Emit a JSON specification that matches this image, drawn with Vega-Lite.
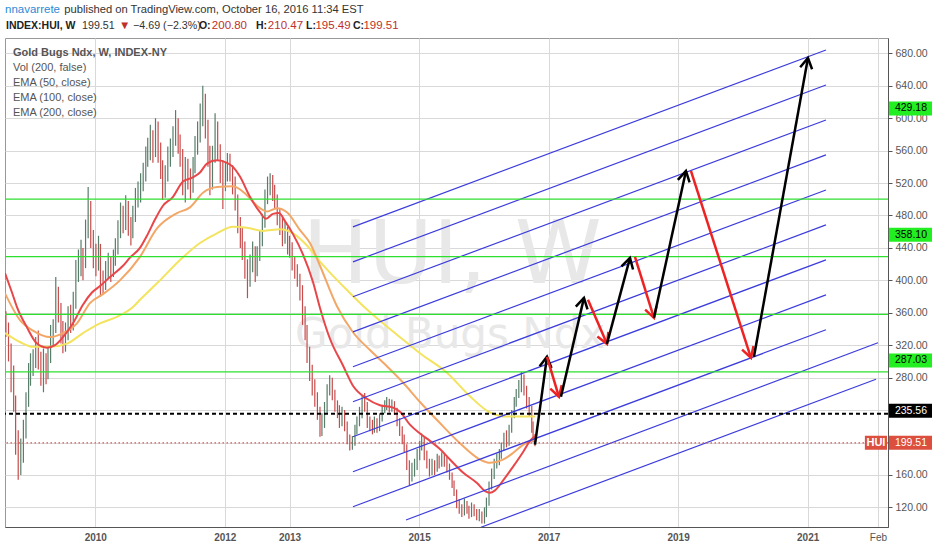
{
  "$schema": "https://vega.github.io/schema/vega-lite/v6.json",
  "width": 883,
  "height": 489,
  "autosize": {"type": "none"},
  "padding": {"left": 5, "top": 38, "right": 44, "bottom": 23},
  "background": "#ffffff",
  "config": {
    "view": {"stroke": "#999999", "strokeWidth": 1},
    "font": "Liberation Sans",
    "axisX": {
      "labelFontSize": 10, "labelColor": "#555555", "labelPadding": 5,
      "ticks": false, "domainColor": "#555555", "gridColor": "#d9d9d9", "grid": true
    },
    "axisY": {
      "labelFontSize": 10.5, "labelColor": "#555555",
      "tickSize": 4, "tickColor": "#555555", "labelPadding": 3,
      "domainColor": "#555555", "gridColor": "#d9d9d9", "grid": true
    }
  },
  "layer": [
    {
      "data": {"values": [{"t": 2013.196, "v": 396.9, "txt": "HUI, W"}]},
      "mark": {"type": "text", "font": "DejaVu Sans", "fontSize": 88, "color": "#e8e8e8", "align": "left", "baseline": "alphabetic"},
      "encoding": {
        "x": {"field": "t", "type": "quantitative", "title": null, "scale": {"domain": [2008.606, 2022.241], "nice": false, "zero": false}},
        "y": {"field": "v", "type": "quantitative", "title": null, "scale": {"domain": [95.8, 698.9], "nice": false, "zero": false}},
        "text": {"field": "txt"}
      }
    },
    {
      "data": {"values": [{"t": 2013.084, "v": 316.8, "txt": "Gold Bugs Ndx"}]},
      "mark": {"type": "text", "font": "DejaVu Sans", "fontSize": 42, "color": "#e8e8e8", "align": "left", "baseline": "alphabetic"},
      "encoding": {
        "x": {"field": "t", "type": "quantitative", "title": null, "scale": {"domain": [2008.606, 2022.241], "nice": false, "zero": false}},
        "y": {"field": "v", "type": "quantitative", "title": null, "scale": {"domain": [95.8, 698.9], "nice": false, "zero": false}},
        "text": {"field": "txt"}
      }
    },
    {
      "data": {"values": [
        {"t":2008.62,"o":355,"h":362,"l":330,"c":340},{"t":2008.66,"o":340,"h":348,"l":300,"c":310},{"t":2008.70,"o":310,"h":322,"l":262,"c":280},{"t":2008.74,"o":280,"h":295,"l":238,"c":250},
        {"t":2008.77,"o":250,"h":258,"l":185,"c":200},{"t":2008.81,"o":200,"h":215,"l":154,"c":170},{"t":2008.85,"o":170,"h":205,"l":160,"c":185},{"t":2008.89,"o":185,"h":228,"l":175,"c":210},
        {"t":2008.93,"o":210,"h":262,"l":205,"c":250},{"t":2008.97,"o":250,"h":298,"l":244,"c":280},{"t":2009.00,"o":280,"h":310,"l":270,"c":295},{"t":2009.04,"o":295,"h":315,"l":282,"c":300},
        {"t":2009.08,"o":300,"h":330,"l":292,"c":320},{"t":2009.12,"o":320,"h":338,"l":290,"c":300},{"t":2009.16,"o":300,"h":312,"l":270,"c":290},{"t":2009.20,"o":290,"h":316,"l":262,"c":300},
        {"t":2009.24,"o":300,"h":310,"l":272,"c":285},{"t":2009.27,"o":285,"h":318,"l":278,"c":305},{"t":2009.31,"o":305,"h":345,"l":298,"c":330},{"t":2009.35,"o":330,"h":352,"l":318,"c":340},
        {"t":2009.39,"o":340,"h":404,"l":335,"c":385},{"t":2009.43,"o":385,"h":392,"l":348,"c":360},{"t":2009.47,"o":360,"h":372,"l":322,"c":340},{"t":2009.50,"o":340,"h":350,"l":310,"c":325},
        {"t":2009.54,"o":325,"h":348,"l":312,"c":335},{"t":2009.58,"o":335,"h":368,"l":326,"c":355},{"t":2009.62,"o":355,"h":370,"l":335,"c":345},{"t":2009.66,"o":345,"h":386,"l":338,"c":370},
        {"t":2009.70,"o":370,"h":425,"l":365,"c":410},{"t":2009.74,"o":410,"h":438,"l":398,"c":420},{"t":2009.78,"o":420,"h":450,"l":405,"c":430},{"t":2009.81,"o":430,"h":440,"l":400,"c":420},
        {"t":2009.85,"o":420,"h":475,"l":415,"c":460},{"t":2009.89,"o":460,"h":515,"l":452,"c":490},{"t":2009.93,"o":490,"h":498,"l":440,"c":450},{"t":2009.97,"o":450,"h":462,"l":415,"c":430},
        {"t":2010.01,"o":430,"h":445,"l":405,"c":420},{"t":2010.05,"o":420,"h":455,"l":412,"c":440},{"t":2010.08,"o":440,"h":445,"l":380,"c":400},{"t":2010.12,"o":400,"h":412,"l":383,"c":395},
        {"t":2010.16,"o":395,"h":424,"l":388,"c":410},{"t":2010.20,"o":410,"h":434,"l":402,"c":420},{"t":2010.24,"o":420,"h":430,"l":398,"c":410},{"t":2010.28,"o":410,"h":438,"l":404,"c":425},
        {"t":2010.31,"o":425,"h":452,"l":418,"c":440},{"t":2010.35,"o":440,"h":474,"l":432,"c":460},{"t":2010.39,"o":460,"h":496,"l":452,"c":480},{"t":2010.43,"o":480,"h":492,"l":458,"c":470},
        {"t":2010.47,"o":470,"h":505,"l":462,"c":490},{"t":2010.51,"o":490,"h":498,"l":455,"c":470},{"t":2010.55,"o":470,"h":478,"l":443,"c":460},{"t":2010.58,"o":460,"h":492,"l":452,"c":480},
        {"t":2010.62,"o":480,"h":514,"l":472,"c":500},{"t":2010.66,"o":500,"h":522,"l":490,"c":505},{"t":2010.70,"o":505,"h":532,"l":496,"c":520},{"t":2010.74,"o":520,"h":545,"l":510,"c":530},
        {"t":2010.78,"o":530,"h":565,"l":522,"c":550},{"t":2010.81,"o":550,"h":576,"l":540,"c":560},{"t":2010.85,"o":560,"h":592,"l":548,"c":575},{"t":2010.89,"o":575,"h":585,"l":545,"c":560},
        {"t":2010.93,"o":560,"h":600,"l":552,"c":590},{"t":2010.97,"o":590,"h":596,"l":545,"c":560},{"t":2011.01,"o":560,"h":570,"l":525,"c":540},{"t":2011.04,"o":540,"h":548,"l":499,"c":510},
        {"t":2011.08,"o":510,"h":542,"l":502,"c":530},{"t":2011.12,"o":530,"h":565,"l":522,"c":550},{"t":2011.16,"o":550,"h":575,"l":540,"c":560},{"t":2011.20,"o":560,"h":590,"l":552,"c":575},
        {"t":2011.24,"o":575,"h":610,"l":566,"c":590},{"t":2011.28,"o":590,"h":600,"l":556,"c":570},{"t":2011.31,"o":570,"h":580,"l":540,"c":555},{"t":2011.35,"o":555,"h":562,"l":505,"c":520},
        {"t":2011.39,"o":520,"h":552,"l":496,"c":540},{"t":2011.43,"o":540,"h":550,"l":512,"c":525},{"t":2011.47,"o":525,"h":538,"l":500,"c":515},{"t":2011.51,"o":515,"h":552,"l":508,"c":540},
        {"t":2011.54,"o":540,"h":578,"l":532,"c":565},{"t":2011.58,"o":565,"h":596,"l":555,"c":580},{"t":2011.62,"o":580,"h":618,"l":570,"c":600},{"t":2011.66,"o":600,"h":640,"l":590,"c":625},
        {"t":2011.70,"o":625,"h":630,"l":575,"c":590},{"t":2011.74,"o":590,"h":598,"l":540,"c":560},{"t":2011.77,"o":560,"h":566,"l":505,"c":520},{"t":2011.81,"o":520,"h":566,"l":512,"c":550},
        {"t":2011.85,"o":550,"h":606,"l":545,"c":590},{"t":2011.89,"o":590,"h":596,"l":548,"c":560},{"t":2011.93,"o":560,"h":568,"l":520,"c":540},{"t":2011.97,"o":540,"h":548,"l":488,"c":520},
        {"t":2012.01,"o":520,"h":545,"l":510,"c":530},{"t":2012.04,"o":530,"h":557,"l":522,"c":545},{"t":2012.08,"o":545,"h":556,"l":522,"c":535},{"t":2012.12,"o":535,"h":542,"l":506,"c":520},
        {"t":2012.16,"o":520,"h":528,"l":486,"c":500},{"t":2012.20,"o":500,"h":506,"l":458,"c":470},{"t":2012.24,"o":470,"h":478,"l":440,"c":455},{"t":2012.27,"o":455,"h":465,"l":425,"c":440},
        {"t":2012.31,"o":440,"h":448,"l":402,"c":420},{"t":2012.35,"o":420,"h":426,"l":378,"c":400},{"t":2012.39,"o":400,"h":432,"l":392,"c":420},{"t":2012.43,"o":420,"h":448,"l":410,"c":435},
        {"t":2012.47,"o":435,"h":442,"l":398,"c":415},{"t":2012.50,"o":415,"h":442,"l":405,"c":430},{"t":2012.54,"o":430,"h":462,"l":424,"c":450},{"t":2012.58,"o":450,"h":482,"l":442,"c":470},
        {"t":2012.62,"o":470,"h":512,"l":465,"c":500},{"t":2012.66,"o":500,"h":528,"l":494,"c":515},{"t":2012.70,"o":515,"h":532,"l":505,"c":525},{"t":2012.74,"o":525,"h":530,"l":498,"c":510},
        {"t":2012.77,"o":510,"h":518,"l":488,"c":500},{"t":2012.81,"o":500,"h":506,"l":468,"c":480},{"t":2012.85,"o":480,"h":488,"l":456,"c":470},{"t":2012.89,"o":470,"h":478,"l":442,"c":455},
        {"t":2012.93,"o":455,"h":472,"l":445,"c":460},{"t":2012.97,"o":460,"h":466,"l":432,"c":445},{"t":2013.00,"o":445,"h":455,"l":428,"c":440},{"t":2013.04,"o":440,"h":447,"l":412,"c":425},
        {"t":2013.08,"o":425,"h":430,"l":402,"c":415},{"t":2013.12,"o":415,"h":420,"l":392,"c":400},{"t":2013.16,"o":400,"h":408,"l":375,"c":390},{"t":2013.20,"o":390,"h":394,"l":345,"c":360},
        {"t":2013.24,"o":360,"h":368,"l":326,"c":340},{"t":2013.27,"o":340,"h":345,"l":298,"c":310},{"t":2013.31,"o":310,"h":318,"l":276,"c":290},{"t":2013.35,"o":290,"h":296,"l":258,"c":270},
        {"t":2013.39,"o":270,"h":278,"l":244,"c":255},{"t":2013.43,"o":255,"h":262,"l":228,"c":240},{"t":2013.47,"o":240,"h":244,"l":207,"c":215},{"t":2013.50,"o":215,"h":236,"l":208,"c":225},
        {"t":2013.54,"o":225,"h":250,"l":218,"c":240},{"t":2013.58,"o":240,"h":272,"l":236,"c":265},{"t":2013.62,"o":265,"h":283,"l":258,"c":275},{"t":2013.66,"o":275,"h":280,"l":252,"c":260},
        {"t":2013.70,"o":260,"h":265,"l":238,"c":245},{"t":2013.74,"o":245,"h":252,"l":230,"c":240},{"t":2013.77,"o":240,"h":246,"l":218,"c":225},{"t":2013.81,"o":225,"h":244,"l":220,"c":235},
        {"t":2013.85,"o":235,"h":240,"l":214,"c":222},{"t":2013.89,"o":222,"h":226,"l":198,"c":205},{"t":2013.93,"o":205,"h":210,"l":190,"c":195},{"t":2013.97,"o":195,"h":208,"l":191,"c":200},
        {"t":2014.01,"o":200,"h":222,"l":196,"c":215},{"t":2014.04,"o":215,"h":232,"l":210,"c":225},{"t":2014.08,"o":225,"h":244,"l":220,"c":235},{"t":2014.12,"o":235,"h":258,"l":230,"c":250},
        {"t":2014.16,"o":250,"h":261,"l":238,"c":245},{"t":2014.20,"o":245,"h":250,"l":218,"c":225},{"t":2014.24,"o":225,"h":232,"l":214,"c":222},{"t":2014.28,"o":222,"h":228,"l":210,"c":215},
        {"t":2014.31,"o":215,"h":232,"l":212,"c":225},{"t":2014.35,"o":225,"h":230,"l":212,"c":218},{"t":2014.39,"o":218,"h":236,"l":214,"c":230},{"t":2014.43,"o":230,"h":246,"l":226,"c":240},
        {"t":2014.47,"o":240,"h":252,"l":236,"c":245},{"t":2014.50,"o":245,"h":256,"l":240,"c":250},{"t":2014.54,"o":250,"h":254,"l":237,"c":242},{"t":2014.58,"o":242,"h":253,"l":238,"c":248},
        {"t":2014.62,"o":248,"h":251,"l":234,"c":240},{"t":2014.66,"o":240,"h":243,"l":220,"c":225},{"t":2014.70,"o":225,"h":230,"l":208,"c":215},{"t":2014.74,"o":215,"h":220,"l":198,"c":205},
        {"t":2014.77,"o":205,"h":210,"l":188,"c":195},{"t":2014.81,"o":195,"h":198,"l":166,"c":175},{"t":2014.85,"o":175,"h":178,"l":147,"c":160},{"t":2014.89,"o":160,"h":175,"l":152,"c":165},
        {"t":2014.93,"o":165,"h":180,"l":158,"c":170},{"t":2014.97,"o":170,"h":192,"l":166,"c":185},{"t":2015.01,"o":185,"h":202,"l":178,"c":195},{"t":2015.04,"o":195,"h":211,"l":190,"c":205},
        {"t":2015.08,"o":205,"h":208,"l":178,"c":185},{"t":2015.12,"o":185,"h":190,"l":168,"c":175},{"t":2015.16,"o":175,"h":180,"l":158,"c":165},{"t":2015.20,"o":165,"h":180,"l":160,"c":172},
        {"t":2015.24,"o":172,"h":178,"l":160,"c":168},{"t":2015.28,"o":168,"h":186,"l":164,"c":178},{"t":2015.31,"o":178,"h":184,"l":168,"c":175},{"t":2015.35,"o":175,"h":188,"l":170,"c":180},
        {"t":2015.39,"o":180,"h":186,"l":170,"c":178},{"t":2015.43,"o":178,"h":182,"l":163,"c":170},{"t":2015.47,"o":170,"h":174,"l":154,"c":160},{"t":2015.51,"o":160,"h":163,"l":144,"c":150},
        {"t":2015.54,"o":150,"h":153,"l":134,"c":140},{"t":2015.58,"o":140,"h":142,"l":119,"c":125},{"t":2015.62,"o":125,"h":130,"l":112,"c":118},{"t":2015.66,"o":118,"h":124,"l":108,"c":115},
        {"t":2015.70,"o":115,"h":131,"l":110,"c":122},{"t":2015.74,"o":122,"h":128,"l":112,"c":118},{"t":2015.77,"o":118,"h":122,"l":106,"c":112},{"t":2015.81,"o":112,"h":126,"l":108,"c":120},
        {"t":2015.85,"o":120,"h":124,"l":109,"c":115},{"t":2015.89,"o":115,"h":118,"l":104,"c":110},{"t":2015.93,"o":110,"h":118,"l":103,"c":112},{"t":2015.97,"o":112,"h":115,"l":100,"c":108},
        {"t":2016.01,"o":108,"h":120,"l":100,"c":112},{"t":2016.04,"o":112,"h":132,"l":108,"c":125},{"t":2016.08,"o":125,"h":152,"l":122,"c":145},{"t":2016.12,"o":145,"h":168,"l":142,"c":160},
        {"t":2016.16,"o":160,"h":180,"l":155,"c":175},{"t":2016.20,"o":175,"h":186,"l":168,"c":180},{"t":2016.24,"o":180,"h":192,"l":172,"c":185},{"t":2016.27,"o":185,"h":200,"l":180,"c":195},
        {"t":2016.31,"o":195,"h":212,"l":190,"c":205},{"t":2016.35,"o":205,"h":215,"l":194,"c":200},{"t":2016.39,"o":200,"h":222,"l":196,"c":215},{"t":2016.43,"o":215,"h":240,"l":212,"c":235},
        {"t":2016.47,"o":235,"h":256,"l":230,"c":250},{"t":2016.50,"o":250,"h":266,"l":244,"c":260},{"t":2016.54,"o":260,"h":277,"l":255,"c":270},{"t":2016.58,"o":270,"h":287,"l":262,"c":280},
        {"t":2016.62,"o":280,"h":284,"l":258,"c":265},{"t":2016.66,"o":265,"h":270,"l":242,"c":250},{"t":2016.70,"o":250,"h":256,"l":232,"c":240},{"t":2016.74,"o":240,"h":245,"l":212,"c":220},
        {"t":2016.76,"o":220,"h":226,"l":200,"c":204},{"t":2016.79,"o":200.8,"h":210.47,"l":195.49,"c":199.51}
      ]},
      "mark": {"type": "rule", "strokeWidth": 1.2},
      "encoding": {
        "x": {
          "field": "t", "type": "quantitative", "title": null,
          "scale": {"domain": [2008.606, 2022.241], "nice": false, "zero": false},
          "axis": {
            "values": [2010, 2012, 2013, 2015, 2017, 2019, 2021, 2022.085],
            "tickCount": 30,
            "labelExpr": "datum.value > 2022 ? 'Feb' : format(datum.value, 'd')",
            "labelFontWeight": {"condition": {"test": "datum.value > 2022", "value": "normal"}, "value": "bold"},
            "labelOverlap": false, "labelFlush": false, "grid": true
          }
        },
        "y": {
          "field": "l", "type": "quantitative", "title": null,
          "scale": {"domain": [95.8, 698.9], "nice": false, "zero": false},
          "axis": {
            "orient": "right",
            "values": [120, 160, 200, 240, 280, 320, 360, 400, 440, 480, 520, 560, 600, 640, 680],
            "tickCount": 30,
            "format": ".2f",
            "labelOverlap": false, "labelFlush": false, "grid": true
          }
        },
        "y2": {"field": "h"},
        "color": {"condition": {"test": "datum.c >= datum.o", "value": "#587d69"}, "value": "#c64b4b"}
      }
    },
    {
      "data": {"values": [
        {"s":"200","t":2008.606,"v":335},{"s":"200","t":2008.837,"v":324},{"s":"200","t":2009.038,"v":318},{"s":"200","t":2009.300,"v":318},
        {"s":"200","t":2009.563,"v":322},{"s":"200","t":2009.810,"v":335},{"s":"200","t":2010.073,"v":347},{"s":"200","t":2010.335,"v":355},
        {"s":"200","t":2010.582,"v":367},{"s":"200","t":2010.690,"v":376},{"s":"200","t":2010.845,"v":388},{"s":"200","t":2010.999,"v":400},
        {"s":"200","t":2011.308,"v":425},{"s":"200","t":2011.617,"v":446},{"s":"200","t":2011.879,"v":458},{"s":"200","t":2012.126,"v":466},
        {"s":"200","t":2012.342,"v":465},{"s":"200","t":2012.590,"v":461},{"s":"200","t":2012.852,"v":463},{"s":"200","t":2013.053,"v":458},
        {"s":"200","t":2013.269,"v":443},{"s":"200","t":2013.470,"v":423},{"s":"200","t":2013.701,"v":403},{"s":"200","t":2013.887,"v":388},
        {"s":"200","t":2014.196,"v":364},{"s":"200","t":2014.504,"v":343},{"s":"200","t":2014.751,"v":327},{"s":"200","t":2015.014,"v":310},
        {"s":"200","t":2015.431,"v":286},{"s":"200","t":2015.786,"v":257},{"s":"200","t":2016.095,"v":237},{"s":"200","t":2016.357,"v":232},
        {"s":"200","t":2016.558,"v":232},{"s":"200","t":2016.790,"v":232},
        {"s":"100","t":2008.606,"v":384},{"s":"100","t":2008.837,"v":351},{"s":"100","t":2009.038,"v":338},{"s":"100","t":2009.300,"v":330},
        {"s":"100","t":2009.501,"v":335},{"s":"100","t":2009.717,"v":347},{"s":"100","t":2009.918,"v":372},{"s":"100","t":2010.119,"v":383},
        {"s":"100","t":2010.381,"v":400},{"s":"100","t":2010.690,"v":429},{"s":"100","t":2010.953,"v":464},{"s":"100","t":2011.262,"v":483},
        {"s":"100","t":2011.462,"v":490},{"s":"100","t":2011.663,"v":508},{"s":"100","t":2011.879,"v":515},{"s":"100","t":2012.126,"v":516},
        {"s":"100","t":2012.342,"v":505},{"s":"100","t":2012.497,"v":492},{"s":"100","t":2012.651,"v":485},{"s":"100","t":2012.806,"v":489},
        {"s":"100","t":2012.960,"v":484},{"s":"100","t":2013.161,"v":462},{"s":"100","t":2013.315,"v":446},{"s":"100","t":2013.470,"v":418},
        {"s":"100","t":2013.732,"v":368},{"s":"100","t":2013.979,"v":336},{"s":"100","t":2014.242,"v":314},{"s":"100","t":2014.504,"v":294},
        {"s":"100","t":2014.751,"v":274},{"s":"100","t":2015.014,"v":250},{"s":"100","t":2015.322,"v":224},{"s":"100","t":2015.632,"v":199},
        {"s":"100","t":2015.940,"v":179},{"s":"100","t":2016.095,"v":175},{"s":"100","t":2016.296,"v":179},{"s":"100","t":2016.450,"v":187},
        {"s":"100","t":2016.604,"v":197},{"s":"100","t":2016.790,"v":204},
        {"s":"50","t":2008.606,"v":409},{"s":"50","t":2008.714,"v":385},{"s":"50","t":2008.791,"v":367},{"s":"50","t":2008.945,"v":342},
        {"s":"50","t":2009.100,"v":322},{"s":"50","t":2009.254,"v":317},{"s":"50","t":2009.378,"v":320},{"s":"50","t":2009.501,"v":330},
        {"s":"50","t":2009.656,"v":347},{"s":"50","t":2009.810,"v":370},{"s":"50","t":2009.949,"v":385},{"s":"50","t":2010.073,"v":393},
        {"s":"50","t":2010.227,"v":404},{"s":"50","t":2010.428,"v":418},{"s":"50","t":2010.536,"v":428},{"s":"50","t":2010.690,"v":440},
        {"s":"50","t":2010.798,"v":455},{"s":"50","t":2010.922,"v":475},{"s":"50","t":2011.045,"v":492},{"s":"50","t":2011.200,"v":503},
        {"s":"50","t":2011.354,"v":522},{"s":"50","t":2011.509,"v":527},{"s":"50","t":2011.617,"v":533},{"s":"50","t":2011.725,"v":544},
        {"s":"50","t":2011.879,"v":548},{"s":"50","t":2012.034,"v":545},{"s":"50","t":2012.126,"v":540},{"s":"50","t":2012.234,"v":528},
        {"s":"50","t":2012.389,"v":503},{"s":"50","t":2012.543,"v":484},{"s":"50","t":2012.636,"v":476},{"s":"50","t":2012.744,"v":482},
        {"s":"50","t":2012.837,"v":483},{"s":"50","t":2012.929,"v":473},{"s":"50","t":2013.053,"v":457},{"s":"50","t":2013.207,"v":432},
        {"s":"50","t":2013.362,"v":398},{"s":"50","t":2013.470,"v":366},{"s":"50","t":2013.624,"v":328},{"s":"50","t":2013.825,"v":295},
        {"s":"50","t":2013.979,"v":270},{"s":"50","t":2014.196,"v":254},{"s":"50","t":2014.396,"v":246},{"s":"50","t":2014.597,"v":243},
        {"s":"50","t":2014.705,"v":238},{"s":"50","t":2014.859,"v":222},{"s":"50","t":2015.014,"v":211},{"s":"50","t":2015.168,"v":202},
        {"s":"50","t":2015.322,"v":192},{"s":"50","t":2015.477,"v":179},{"s":"50","t":2015.678,"v":163},{"s":"50","t":2015.894,"v":150},
        {"s":"50","t":2016.018,"v":140},{"s":"50","t":2016.095,"v":138},{"s":"50","t":2016.172,"v":141},{"s":"50","t":2016.296,"v":153},
        {"s":"50","t":2016.450,"v":170},{"s":"50","t":2016.604,"v":188},{"s":"50","t":2016.713,"v":202},{"s":"50","t":2016.790,"v":208}
      ]},
      "mark": {"type": "line", "strokeWidth": 2, "clip": true, "interpolate": "monotone"},
      "encoding": {
        "x": {"field": "t", "type": "quantitative", "title": null, "scale": {"domain": [2008.606, 2022.241], "nice": false, "zero": false}},
        "y": {"field": "v", "type": "quantitative", "title": null, "scale": {"domain": [95.8, 698.9], "nice": false, "zero": false}},
        "color": {"field": "s", "type": "nominal", "scale": {"domain": ["200", "100", "50"], "range": ["#f3e35e", "#f3a767", "#e8474a"]}, "legend": null}
      }
    },
    {
      "data": {"values": [
        {"id":1,"t":2013.979,"v":465.9},{"id":1,"t":2021.283,"v":684.1},
        {"id":2,"t":2013.979,"v":422.8},{"id":2,"t":2021.283,"v":640.9},
        {"id":3,"t":2013.979,"v":379.7},{"id":3,"t":2021.283,"v":597.8},
        {"id":4,"t":2013.979,"v":336.5},{"id":4,"t":2021.283,"v":554.7},
        {"id":5,"t":2013.979,"v":293.4},{"id":5,"t":2021.283,"v":511.5},
        {"id":6,"t":2013.979,"v":250.3},{"id":6,"t":2021.283,"v":468.4},
        {"id":7,"t":2013.979,"v":207.1},{"id":7,"t":2021.283,"v":425.3},
        {"id":8,"t":2013.979,"v":164.0},{"id":8,"t":2021.283,"v":382.1},
        {"id":9,"t":2013.979,"v":120.8},{"id":9,"t":2021.283,"v":339.0},
        {"id":10,"t":2014.798,"v":104.5},{"id":10,"t":2022.086,"v":323.0},
        {"id":11,"t":2015.956,"v":95.5},{"id":11,"t":2022.055,"v":278.0}
      ]},
      "mark": {"type": "line", "strokeWidth": 1.2, "color": "#3c3cdc", "clip": true},
      "encoding": {
        "x": {"field": "t", "type": "quantitative", "title": null, "scale": {"domain": [2008.606, 2022.241], "nice": false, "zero": false}},
        "y": {"field": "v", "type": "quantitative", "title": null, "scale": {"domain": [95.8, 698.9], "nice": false, "zero": false}},
        "detail": {"field": "id", "type": "nominal"}
      }
    },
    {
      "data": {"values": [{"v": 500.25}, {"v": 429.18}, {"v": 358.10}, {"v": 287.03}]},
      "mark": {"type": "rule", "color": "#2ee02e", "strokeWidth": 1.3},
      "encoding": {
        "y": {"field": "v", "type": "quantitative", "title": null, "scale": {"domain": [95.8, 698.9], "nice": false, "zero": false}}
      }
    },
    {
      "data": {"values": [{"v": 235.56}]},
      "mark": {"type": "rule", "color": "#000000", "strokeWidth": 2, "strokeDash": [4, 3]},
      "encoding": {
        "y": {"field": "v", "type": "quantitative", "title": null, "scale": {"domain": [95.8, 698.9], "nice": false, "zero": false}}
      }
    },
    {
      "data": {"values": [{"v": 199.51}]},
      "mark": {"type": "rule", "color": "#e0524a", "strokeWidth": 1.2, "strokeDash": [1.5, 2.5]},
      "encoding": {
        "y": {"field": "v", "type": "quantitative", "title": null, "scale": {"domain": [95.8, 698.9], "nice": false, "zero": false}}
      }
    },
    {
      "data": {"values": [
        {"id":"A","d":"up","o":1,"t":2016.790,"v":197.3},{"id":"A","d":"up","o":2,"t":2016.975,"v":305.7},
        {"id":"Ah","d":"up","o":1,"t":2016.862,"v":294.0},{"id":"Ah","d":"up","o":2,"t":2016.975,"v":305.7},{"id":"Ah","d":"up","o":3,"t":2017.045,"v":292.0},
        {"id":"B","d":"down","o":1,"t":2016.975,"v":305.7},{"id":"B","d":"down","o":2,"t":2017.160,"v":256.4},
        {"id":"Bh","d":"down","o":1,"t":2017.203,"v":270.8},{"id":"Bh","d":"down","o":2,"t":2017.160,"v":256.4},{"id":"Bh","d":"down","o":3,"t":2017.026,"v":266.5},
        {"id":"C","d":"up","o":1,"t":2017.191,"v":256.4},{"id":"C","d":"up","o":2,"t":2017.546,"v":378.4},
        {"id":"Ch","d":"up","o":1,"t":2017.420,"v":367.6},{"id":"Ch","d":"up","o":2,"t":2017.546,"v":378.4},{"id":"Ch","d":"up","o":3,"t":2017.601,"v":364.2},
        {"id":"D","d":"down","o":1,"t":2017.608,"v":376.0},{"id":"D","d":"down","o":2,"t":2017.901,"v":321.7},
        {"id":"Dh","d":"down","o":1,"t":2017.923,"v":336.4},{"id":"Dh","d":"down","o":2,"t":2017.901,"v":321.7},{"id":"Dh","d":"down","o":3,"t":2017.753,"v":330.6},
        {"id":"E","d":"up","o":1,"t":2017.901,"v":321.7},{"id":"E","d":"up","o":2,"t":2018.257,"v":427.7},
        {"id":"Eh","d":"up","o":1,"t":2018.125,"v":417.2},{"id":"Eh","d":"up","o":2,"t":2018.257,"v":427.7},{"id":"Eh","d":"up","o":3,"t":2018.304,"v":413.4},
        {"id":"F","d":"down","o":1,"t":2018.334,"v":429.0},{"id":"F","d":"down","o":2,"t":2018.627,"v":353.8},
        {"id":"Fh","d":"down","o":1,"t":2018.667,"v":368.2},{"id":"Fh","d":"down","o":2,"t":2018.627,"v":353.8},{"id":"Fh","d":"down","o":3,"t":2018.491,"v":363.8},
        {"id":"G","d":"up","o":1,"t":2018.627,"v":353.8},{"id":"G","d":"up","o":2,"t":2019.121,"v":534.9},
        {"id":"Gh","d":"up","o":1,"t":2018.996,"v":524.0},{"id":"Gh","d":"up","o":2,"t":2019.121,"v":534.9},{"id":"Gh","d":"up","o":3,"t":2019.177,"v":520.9},
        {"id":"H","d":"down","o":1,"t":2019.198,"v":534.9},{"id":"H","d":"down","o":2,"t":2020.125,"v":304.5},
        {"id":"Hh","d":"down","o":1,"t":2020.164,"v":318.9},{"id":"Hh","d":"down","o":2,"t":2020.125,"v":304.5},{"id":"Hh","d":"down","o":3,"t":2019.988,"v":314.5},
        {"id":"I","d":"up","o":1,"t":2020.171,"v":305.7},{"id":"I","d":"up","o":2,"t":2021.005,"v":674.2},
        {"id":"Ih","d":"up","o":1,"t":2020.885,"v":662.9},{"id":"Ih","d":"up","o":2,"t":2021.005,"v":674.2},{"id":"Ih","d":"up","o":3,"t":2021.069,"v":660.3}
      ]},
      "mark": {"type": "line", "strokeWidth": 2.5, "strokeJoin": "miter"},
      "encoding": {
        "x": {"field": "t", "type": "quantitative", "title": null, "scale": {"domain": [2008.606, 2022.241], "nice": false, "zero": false}},
        "y": {"field": "v", "type": "quantitative", "title": null, "scale": {"domain": [95.8, 698.9], "nice": false, "zero": false}},
        "detail": {"field": "id", "type": "nominal"},
        "order": {"field": "o", "type": "quantitative"},
        "color": {"condition": {"test": "datum.d == 'up'", "value": "#000000"}, "value": "#ee2222"}
      }
    },
    {
      "data": {"values": [
        {"v": 612.1, "label": "429.18", "kind": "g"},
        {"v": 456.1, "label": "358.10", "kind": "g"},
        {"v": 301.2, "label": "287.03", "kind": "g"},
        {"v": 239.3, "label": "235.56", "kind": "k"},
        {"v": 199.7, "label": "199.51", "kind": "r"}
      ]},
      "mark": {"type": "rule", "strokeWidth": 14},
      "encoding": {
        "x": {"datum": 2022.255, "type": "quantitative", "title": null},
        "x2": {"datum": 2022.93},
        "y": {"field": "v", "type": "quantitative", "title": null, "scale": {"domain": [95.8, 698.9], "nice": false, "zero": false}},
        "color": {"condition": [{"test": "datum.kind == 'k'", "value": "#000000"}, {"test": "datum.kind == 'r'", "value": "#dc4e3e"}], "value": "#22ee22"}
      }
    },
    {
      "data": {"values": [
        {"v": 612.1, "label": "429.18", "kind": "g"},
        {"v": 456.1, "label": "358.10", "kind": "g"},
        {"v": 301.2, "label": "287.03", "kind": "g"},
        {"v": 239.3, "label": "235.56", "kind": "k"},
        {"v": 199.7, "label": "199.51", "kind": "r"}
      ]},
      "mark": {"type": "text", "fontSize": 10.5, "align": "left", "baseline": "middle"},
      "encoding": {
        "x": {"datum": 2022.348, "type": "quantitative", "title": null},
        "y": {"field": "v", "type": "quantitative", "title": null, "scale": {"domain": [95.8, 698.9], "nice": false, "zero": false}},
        "text": {"field": "label"},
        "color": {"condition": {"test": "datum.kind == 'g'", "value": "#000000"}, "value": "#ffffff"}
      }
    },
    {
      "data": {"values": [{"v": 199.7, "label": "HUI"}]},
      "mark": {"type": "rule", "strokeWidth": 14, "color": "#dc4e3e"},
      "encoding": {
        "x": {"datum": 2021.884, "type": "quantitative", "title": null},
        "x2": {"datum": 2022.226},
        "y": {"field": "v", "type": "quantitative", "title": null, "scale": {"domain": [95.8, 698.9], "nice": false, "zero": false}}
      }
    },
    {
      "data": {"values": [{"v": 199.7, "label": "HUI"}]},
      "mark": {"type": "text", "fontSize": 11, "fontWeight": "bold", "color": "#ffffff", "align": "center", "baseline": "middle"},
      "encoding": {
        "x": {"datum": 2022.055, "type": "quantitative", "title": null},
        "y": {"field": "v", "type": "quantitative", "title": null, "scale": {"domain": [95.8, 698.9], "nice": false, "zero": false}},
        "text": {"field": "label"}
      }
    },
    {
      "data": {"values": [{"t": 2008.606, "v": 733.4, "txt": "nnavarrete"}]},
      "mark": {"type": "text", "fontSize": 11.5, "color": "#2b8ad6", "align": "left", "baseline": "middle"},
      "encoding": {
        "x": {"field": "t", "type": "quantitative", "title": null, "scale": {"domain": [2008.606, 2022.241], "nice": false, "zero": false}},
        "y": {"field": "v", "type": "quantitative", "title": null, "scale": {"domain": [95.8, 698.9], "nice": false, "zero": false}},
        "text": {"field": "txt"}
      }
    },
    {
      "data": {"values": [
        {"t": 2009.521, "v": 733.4, "txt": "published on TradingView.com, October 16, 2016 11:34 EST"}
      ]},
      "mark": {"type": "text", "fontSize": 11.2, "color": "#333333", "align": "left", "baseline": "middle"},
      "encoding": {
        "x": {"field": "t", "type": "quantitative", "title": null, "scale": {"domain": [2008.606, 2022.241], "nice": false, "zero": false}},
        "y": {"field": "v", "type": "quantitative", "title": null, "scale": {"domain": [95.8, 698.9], "nice": false, "zero": false}},
        "text": {"field": "txt"}
      }
    },
    {
      "data": {"values": [
        {"t": 2009.795, "v": 714.0, "txt": "199.51"},
        {"t": 2010.584, "v": 714.0, "txt": "−4.69 (−2.3%)"}
      ]},
      "mark": {"type": "text", "fontSize": 10.7, "color": "#333333", "align": "left", "baseline": "middle"},
      "encoding": {
        "x": {"field": "t", "type": "quantitative", "title": null, "scale": {"domain": [2008.606, 2022.241], "nice": false, "zero": false}},
        "y": {"field": "v", "type": "quantitative", "title": null, "scale": {"domain": [95.8, 698.9], "nice": false, "zero": false}},
        "text": {"field": "txt"}
      }
    },
    {
      "data": {"values": [
        {"t": 2008.621, "v": 714.0, "txt": "INDEX:HUI, W"},
        {"t": 2011.601, "v": 714.0, "txt": "O:"},
        {"t": 2012.481, "v": 714.0, "txt": "H:"},
        {"t": 2013.254, "v": 714.0, "txt": "L:"},
        {"t": 2013.979, "v": 714.0, "txt": "C:"}
      ]},
      "mark": {"type": "text", "fontSize": 10.5, "fontWeight": "bold", "color": "#222222", "align": "left", "baseline": "middle"},
      "encoding": {
        "x": {"field": "t", "type": "quantitative", "title": null, "scale": {"domain": [2008.606, 2022.241], "nice": false, "zero": false}},
        "y": {"field": "v", "type": "quantitative", "title": null, "scale": {"domain": [95.8, 698.9], "nice": false, "zero": false}},
        "text": {"field": "txt"}
      }
    },
    {
      "data": {"values": [
        {"t": 2010.368, "v": 714.0, "txt": "▼"},
        {"t": 2011.800, "v": 714.0, "txt": "200.80"},
        {"t": 2012.665, "v": 714.0, "txt": "210.47"},
        {"t": 2013.400, "v": 714.0, "txt": "195.49"},
        {"t": 2014.140, "v": 714.0, "txt": "199.51"}
      ]},
      "mark": {"type": "text", "fontSize": 11.5, "color": "#c0302b", "align": "left", "baseline": "middle"},
      "encoding": {
        "x": {"field": "t", "type": "quantitative", "title": null, "scale": {"domain": [2008.606, 2022.241], "nice": false, "zero": false}},
        "y": {"field": "v", "type": "quantitative", "title": null, "scale": {"domain": [95.8, 698.9], "nice": false, "zero": false}},
        "text": {"field": "txt"}
      }
    },
    {
      "data": {"values": [{"t": 2008.729, "v": 680.0, "txt": "Gold Bugs Ndx, W, INDEX-NY"}]},
      "mark": {"type": "text", "fontSize": 11, "fontWeight": "bold", "color": "#555555", "align": "left", "baseline": "middle"},
      "encoding": {
        "x": {"field": "t", "type": "quantitative", "title": null, "scale": {"domain": [2008.606, 2022.241], "nice": false, "zero": false}},
        "y": {"field": "v", "type": "quantitative", "title": null, "scale": {"domain": [95.8, 698.9], "nice": false, "zero": false}},
        "text": {"field": "txt"}
      }
    },
    {
      "data": {"values": [
        {"t": 2008.729, "v": 661.5, "txt": "Vol (200, false)"},
        {"t": 2008.729, "v": 643.0, "txt": "EMA (50, close)"},
        {"t": 2008.729, "v": 624.5, "txt": "EMA (100, close)"},
        {"t": 2008.729, "v": 606.8, "txt": "EMA (200, close)"}
      ]},
      "mark": {"type": "text", "fontSize": 11, "color": "#555555", "align": "left", "baseline": "middle"},
      "encoding": {
        "x": {"field": "t", "type": "quantitative", "title": null, "scale": {"domain": [2008.606, 2022.241], "nice": false, "zero": false}},
        "y": {"field": "v", "type": "quantitative", "title": null, "scale": {"domain": [95.8, 698.9], "nice": false, "zero": false}},
        "text": {"field": "txt"}
      }
    }
  ]
}
